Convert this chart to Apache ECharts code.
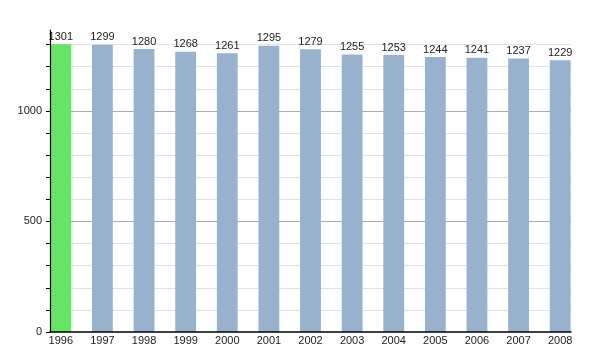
<!DOCTYPE html>
<html>
<head>
<meta charset="utf-8">
<script src="https://cdn.jsdelivr.net/npm/echarts@6/dist/echarts.min.js"></script>
<style>
  html, body { margin: 0; padding: 0; background: #fff; }
  #chart { width: 600px; height: 350px; }
</style>
</head>
<body>
<div id="chart"></div>
<script>
// Population by year
const years = ['1996','1997','1998','1999','2000','2001','2002','2003','2004','2005','2006','2007','2008'];
const population = [1301, 1299, 1280, 1268, 1261, 1295, 1279, 1255, 1253, 1244, 1241, 1237, 1229];
const yTickValues = [0, 100, 200, 300, 400, 500, 600, 700, 800, 900, 1000, 1100, 1200, 1300];
const yLabelValues = [0, 500, 1000];

const yMax = 1366;
const firstColor = '#66e466';
const barColor = '#98b2cd';

const chart = echarts.init(document.getElementById('chart'), null, { renderer: 'canvas' });

chart.setOption({
  animation: false,
  backgroundColor: '#fff',
  textStyle: { fontFamily: '"Liberation Sans", Arial, sans-serif' },
  grid: [
    { left: 40, right: 19, top: 30, bottom: 18 },  // bars
    { left: 50, right: 29, top: 30, bottom: 18 }   // axis frame
  ],
  xAxis: [
    {
      type: 'category', gridIndex: 0, data: years,
      axisLine: { show: false }, axisTick: { show: false },
      axisLabel: { color: '#222', fontSize: 11, margin: 3 }
    },
    {
      type: 'value', gridIndex: 1, min: 0, max: 1, z: 10,
      axisLine: { show: true, lineStyle: { color: '#000', width: 1.5 } },
      axisTick: { show: false }, axisLabel: { show: false }, splitLine: { show: false }
    }
  ],
  yAxis: [
    { type: 'value', gridIndex: 0, min: 0, max: yMax, show: false, splitLine: { show: false } },
    // gridlines, kept beneath the bars
    {
      type: 'value', gridIndex: 1, position: 'left', min: 0, max: yMax, interval: 100, z: 0,
      axisLine: { show: false }, axisTick: { show: false }, axisLabel: { show: false },
      splitLine: {
        show: true,
        lineStyle: {
          color: ['#ffffff', '#e2e2e2', '#e2e2e2', '#e2e2e2', '#e2e2e2',
                  '#aaaaaa', '#e2e2e2', '#e2e2e2', '#e2e2e2', '#e2e2e2',
                  '#aaaaaa', '#e2e2e2', '#e2e2e2', '#e2e2e2', 'rgba(0,0,0,0)'],
          width: 1
        }
      }
    },
    // axis line, ticks and labels, drawn above the bars
    {
      type: 'value', gridIndex: 1, position: 'left', offset: 0, min: 0, max: yMax, interval: 100, z: 10,
      axisLine: { show: true, lineStyle: { color: '#000', width: 1.2 } },
      axisTick: { show: true, length: 4, customValues: yTickValues, lineStyle: { color: '#000' } },
      axisLabel: {
        customValues: yLabelValues, color: '#222', fontSize: 11, margin: 8,
        formatter: v => String(v)
      },
      splitLine: { show: false }
    }
  ],
  series: [{
    type: 'bar',
    xAxisIndex: 0, yAxisIndex: 0,
    barWidth: '50%',
    z: 5,
    data: population.map((v, i) => ({
      value: v,
      itemStyle: { color: i === 0 ? firstColor : barColor }
    })),
    label: {
      show: true, position: 'top', distance: 2,
      color: '#222', fontSize: 11
    }
  }]
});
</script>
</body>
</html>
